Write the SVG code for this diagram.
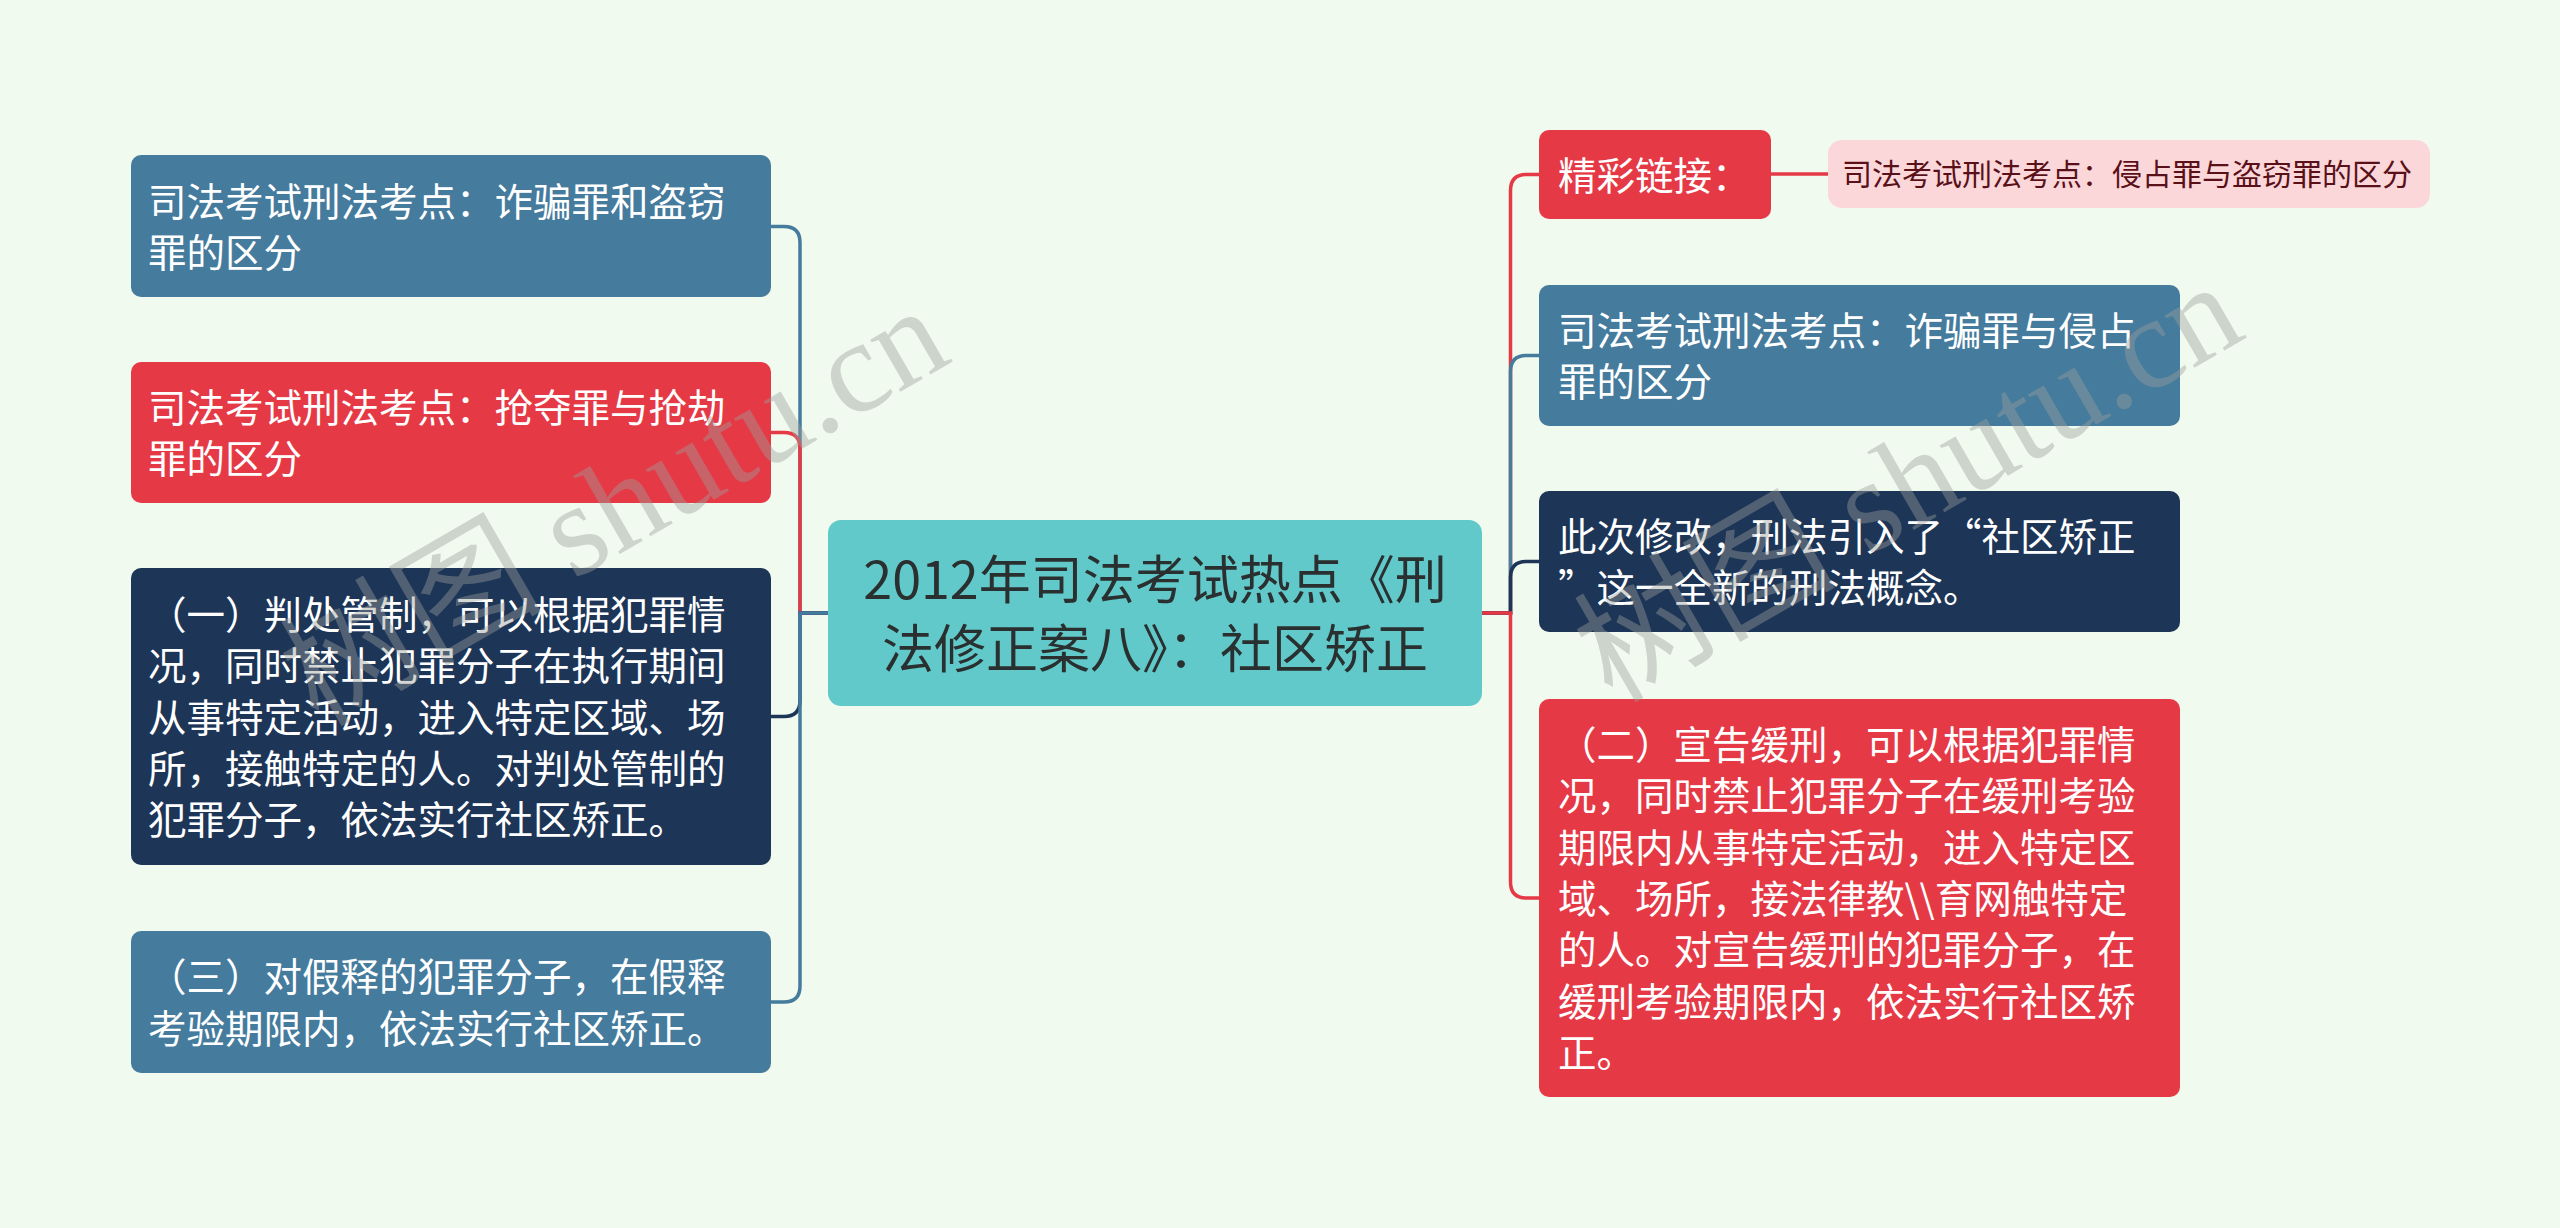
<svg xmlns="http://www.w3.org/2000/svg" width="2560" height="1228" viewBox="0 0 2560 1228">
<style>
.t{font-family:"Noto Sans CJK SC","Noto Sans",sans-serif;font-size:38.5px;fill:#ffffff}
.c{font-family:"Noto Sans CJK SC","Noto Sans",sans-serif;font-size:52px;fill:#2a2f2f;text-anchor:middle}
.p{font-family:"Noto Sans CJK SC","Noto Sans",sans-serif;font-size:30px;fill:#5a1018}
.blue{fill:#457b9d}
.red{fill:#e63946}
.navy{fill:#1d3557}
.ln{fill:none;stroke-width:3.5}
.wm{font-family:"Liberation Serif","Noto Sans CJK SC",serif;font-size:131px;fill:#9a9f9a;fill-opacity:0.42}
</style>
<rect width="2560" height="1228" fill="#f1faee"/>
<g id="connectors">
<path class="ln" stroke="#457b9d" d="M829,613 H800 V242.5 Q800,226.5 784,226.5 H771"/>
<path class="ln" stroke="#e63946" d="M829,613 H800 V448.5 Q800,432.5 784,432.5 H771"/>
<path class="ln" stroke="#1d3557" d="M829,613 H800 V700.5 Q800,716.5 784,716.5 H771"/>
<path class="ln" stroke="#457b9d" d="M829,613 H800 V986 Q800,1002 784,1002 H771"/>
<path class="ln" stroke="#e63946" d="M1482,613 H1510.5 V190.5 Q1510.5,174.5 1526.5,174.5 H1539"/>
<path class="ln" stroke="#457b9d" d="M1482,613 H1510.5 V371.5 Q1510.5,355.5 1526.5,355.5 H1539"/>
<path class="ln" stroke="#1d3557" d="M1482,613 H1510.5 V577.5 Q1510.5,561.5 1526.5,561.5 H1539"/>
<path class="ln" stroke="#e63946" d="M1482,613 H1510.5 V882 Q1510.5,898 1526.5,898 H1539"/>
<path class="ln" stroke="#e63946" d="M1771,174 H1828"/>
</g>
<g id="center">
<rect x="828" y="520" width="654" height="186" rx="13" fill="#62c9cb"/>
<text class="c" x="1155" y="598.5">2012年司法考试热点《刑</text>
<text class="c" x="1155" y="667.5">法修正案八》：社区矫正</text>
</g>
<g id="left1">
<rect class="blue" x="131" y="155" width="640" height="142" rx="10"/>
<text class="t" x="148" y="215.5">司法考试刑法考点：诈骗罪和盗窃</text>
<text class="t" x="148" y="266.8">罪的区分</text>
</g>
<g id="left2">
<rect class="red" x="131" y="362" width="640" height="141" rx="10"/>
<text class="t" x="148" y="422">司法考试刑法考点：抢夺罪与抢劫</text>
<text class="t" x="148" y="473.3">罪的区分</text>
</g>
<g id="left3">
<rect class="navy" x="131" y="568" width="640" height="297" rx="10"/>
<text class="t" x="148" y="628.9">（一）判处管制，可以根据犯罪情</text>
<text class="t" x="148" y="680.2">况，同时禁止犯罪分子在执行期间</text>
<text class="t" x="148" y="731.5">从事特定活动，进入特定区域、场</text>
<text class="t" x="148" y="782.8">所，接触特定的人。对判处管制的</text>
<text class="t" x="148" y="834.1">犯罪分子，依法实行社区矫正。</text>
</g>
<g id="left4">
<rect class="blue" x="131" y="931" width="640" height="142" rx="10"/>
<text class="t" x="148" y="991.4">（三）对假释的犯罪分子，在假释</text>
<text class="t" x="148" y="1042.7">考验期限内，依法实行社区矫正。</text>
</g>
<g id="right1">
<rect class="red" x="1539" y="130" width="232" height="89" rx="10"/>
<text class="t" x="1558" y="189.5">精彩链接：</text>
</g>
<g id="right1child">
<rect x="1828" y="140" width="602" height="68" rx="14" fill="#fbd7da"/>
<text class="p" x="1842" y="185.4">司法考试刑法考点：侵占罪与盗窃罪的区分</text>
</g>
<g id="right2">
<rect class="blue" x="1539" y="285" width="641" height="141" rx="10"/>
<text class="t" x="1558" y="345">司法考试刑法考点：诈骗罪与侵占</text>
<text class="t" x="1558" y="396.3">罪的区分</text>
</g>
<g id="right3">
<rect class="navy" x="1539" y="491" width="641" height="141" rx="10"/>
<text class="t" x="1558" y="550.9">此次修改，刑法引入了“社区矫正</text>
<text class="t" x="1558" y="602.2">”这一全新的刑法概念。</text>
</g>
<g id="right4">
<rect class="red" x="1539" y="699" width="641" height="398" rx="10"/>
<text class="t" x="1558" y="759.1">（二）宣告缓刑，可以根据犯罪情</text>
<text class="t" x="1558" y="810.4">况，同时禁止犯罪分子在缓刑考验</text>
<text class="t" x="1558" y="861.7">期限内从事特定活动，进入特定区</text>
<text class="t" x="1558" y="913">域、场所，接法律教\\育网触特定</text>
<text class="t" x="1558" y="964.3">的人。对宣告缓刑的犯罪分子，在</text>
<text class="t" x="1558" y="1015.6">缓刑考验期限内，依法实行社区矫</text>
<text class="t" x="1558" y="1066.9">正。</text>
</g>
<g id="watermarks">
<text class="wm" transform="translate(318,728) rotate(-30)">树图 shutu.cn</text>
<text class="wm" transform="translate(1612,704) rotate(-30)">树图 shutu.cn</text>
</g>
</svg>
